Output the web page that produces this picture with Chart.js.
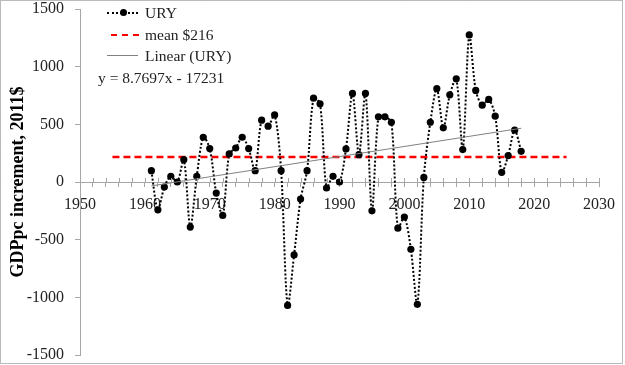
<!DOCTYPE html>
<html>
<head>
<meta charset="utf-8">
<script src="https://cdn.jsdelivr.net/npm/chart.js"></script>
<style>
  body { margin: 0; background: #fff; }
  #wrap { position: relative; width: 625px; height: 365px; }
  #legend {
    position: absolute; left: 98px; top: 2px;
    font-family: "Liberation Serif", serif; font-size: 15.5px; color: #222;
  }
  .row { height: 21.5px; line-height: 21.5px; position: relative; padding-left: 47px; }
  .sample { position: absolute; left: 9px; top: 10px; width: 31px; height: 0; }
  .dot { position: absolute; left: 22px; top: 6.5px; width: 7px; height: 7px; border-radius: 50%; background: #000; }
</style>
</head>
<body>
<div id="wrap">
  <canvas id="chart" width="625" height="365"></canvas>
  <div id="legend">
    <div class="row"><span class="sample" style="border-top: 2px dotted #000;"></span><span class="dot"></span>URY</div>
    <div class="row"><span class="sample" style="left:13px; width:28px; border-top: 2.5px dashed #f00;"></span>mean $216</div>
    <div class="row"><span class="sample" style="border-top: 1px solid #808080;"></span>Linear (URY)</div>
    <div class="row" style="padding-left:0;">y = 8.7697x - 17231</div>
  </div>
</div>
<script>
const years = [1961, 1962, 1963, 1964, 1965, 1966, 1967, 1968, 1969, 1970,
  1971, 1972, 1973, 1974, 1975, 1976, 1977, 1978, 1979, 1980,
  1981, 1982, 1983, 1984, 1985, 1986, 1987, 1988, 1989, 1990,
  1991, 1992, 1993, 1994, 1995, 1996, 1997, 1998, 1999, 2000,
  2001, 2002, 2003, 2004, 2005, 2006, 2007, 2008, 2009, 2010,
  2011, 2012, 2013, 2014, 2015, 2016, 2017, 2018];
const ury = [98, -241, -44, 49, 0, 194, -391, 49, 388, 290,
  -96, -290, 243, 295, 388, 290, 98, 536, 484, 582,
  98, -1070, -632, -148, 98, 727, 678, -52, 49, 0,
  287, 768, 237, 768, -250, 565, 565, 518, -400, -304,
  -583, -1061, 40, 518, 809, 470, 756, 895, 281, 1275,
  794, 666, 716, 571, 84, 229, 449, 266];
const meanX = [1955, 2025];
const meanY = [216, 216];
const trendX = [1961, 2018];
const trendY = [-34, 466];

const serif = '"Liberation Serif", serif';

function pts(xs, ys) { return xs.map((x, i) => ({ x, y: ys[i] })); }

// ticks that cross the x axis line, plus the dotted frame
const extras = {
  id: 'extras',
  afterDraw(chart) {
    const c = chart.ctx, xs = chart.scales.x, ys = chart.scales.y;
    const y0 = ys.getPixelForValue(0);
    c.save();
    c.strokeStyle = '#a6a6a6';
    c.lineWidth = 1;
    for (let v = 1950; v <= 2030; v += 2) {
      const px = Math.round(xs.getPixelForValue(v)) + 0.5;
      c.beginPath(); c.moveTo(px, y0 - 4); c.lineTo(px, y0); c.stroke();
    }
    c.strokeStyle = '#777';
    c.setLineDash([1, 1]);
    c.strokeRect(0.5, 0.5, 622, 363);
    c.restore();
  }
};

new Chart(document.getElementById('chart'), {
  type: 'line',
  data: {
    datasets: [
      {
        label: 'URY', data: pts(years, ury),
        borderColor: '#000', borderWidth: 2, borderDash: [2, 2],
        pointRadius: 3.6, pointBackgroundColor: '#000', pointBorderWidth: 0,
        tension: 0.3, order: 1
      },
      {
        label: 'mean $216', data: pts(meanX, meanY),
        borderColor: '#ff0000', borderWidth: 2.5, borderDash: [7, 4],
        pointRadius: 0, order: 2
      },
      {
        label: 'Linear (URY)', data: pts(trendX, trendY),
        borderColor: '#808080', borderWidth: 1,
        pointRadius: 0, order: 0
      }
    ]
  },
  options: {
    responsive: false,
    animation: false,
    layout: { padding: { top: 9, bottom: 10, right: 26, left: 0 } },
    plugins: { legend: { display: false }, tooltip: { enabled: false } },
    scales: {
      x: {
        type: 'linear', min: 1950, max: 2030,
        position: { y: 0 },
        afterFit(scale) { scale.paddingTop = 0; scale.paddingBottom = 0; scale.paddingLeft = 0; scale.paddingRight = 0; },
        grid: { drawOnChartArea: false, tickLength: 4, color: '#a6a6a6' },
        border: { color: '#a6a6a6' },
        ticks: {
          stepSize: 2, autoSkip: false, maxRotation: 0, padding: 9,
          font: { family: serif, size: 16 }, color: '#222',
          callback: v => (v % 10 === 0 ? String(v) : '')
        }
      },
      y: {
        min: -1500, max: 1500,
        afterFit(scale) { scale.width = 80; scale.paddingTop = 0; scale.paddingBottom = 0; },
        grid: { drawOnChartArea: false, tickLength: 5, color: '#a6a6a6' },
        border: { color: '#a6a6a6' },
        ticks: {
          stepSize: 500, padding: 11,
          font: { family: serif, size: 16 }, color: '#222',
          callback: v => String(v)
        },
        title: {
          display: true, text: 'GDPpc increment, 2011$',
          font: { family: serif, size: 18, weight: 'bold' }, color: '#000',
          padding: { top: 8, bottom: 0 }
        }
      }
    }
  },
  plugins: [extras]
});
</script>
</body>
</html>
